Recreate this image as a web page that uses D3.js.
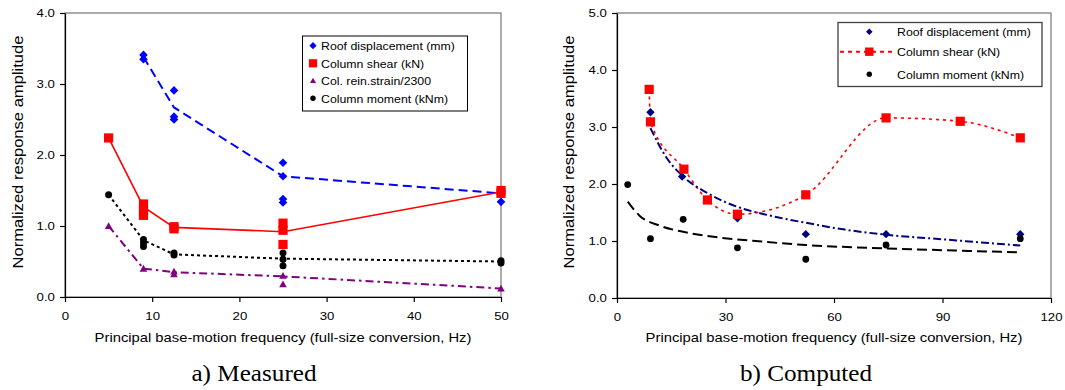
<!DOCTYPE html>
<html>
<head>
<meta charset="utf-8">
<script src="https://cdn.jsdelivr.net/npm/d3@7"></script>
<style>
  body { margin: 0; background: #fff; }
  svg { display: block; }
</style>
</head>
<body>
<svg id="chart" width="1065" height="390"></svg>
<script>
// ---- data ----
// a) Measured
const xTicksA = [0, 10, 20, 30, 40, 50];
const yTicksA = [0, 1, 2, 3, 4];
const roofMeasPts = [[9,3.41],[9,3.35],[12.5,2.91],[12.5,2.54],[12.5,2.50],[25,1.89],[25,1.70],[25,1.38],[25,1.33],[50,1.34]];
const roofMeasLine = [[9,3.38],[12.5,2.67],[25,1.70],[50,1.46]];
const shearMeasPts = [[5,2.24],[9,1.31],[9,1.22],[9,1.15],[12.5,0.99],[12.5,0.96],[25,1.04],[25,0.94],[25,0.74],[50,1.50],[50,1.46]];
const shearMeasLine = [[5,2.24],[9,1.27],[12.5,0.98],[25,0.92],[50,1.48]];
const strainMeasPts = [[5,1.00],[9,0.40],[12.5,0.36],[12.5,0.32],[25,0.30],[25,0.18],[50,0.12]];
const strainMeasLine = [[5,1.00],[9,0.40],[12.5,0.35],[25,0.29],[50,0.12]];
const momentMeasPts = [[5,1.44],[9,0.81],[9,0.76],[9,0.71],[12.5,0.62],[12.5,0.59],[25,0.62],[25,0.53],[25,0.44],[50,0.51],[50,0.48]];
const momentMeasLine = [[5,1.44],[9,0.80],[12.5,0.60],[25,0.54],[50,0.50]];
const legendA = ["Roof displacement (mm)", "Column shear (kN)", "Col. rein.strain/2300", "Column moment (kNm)"];

// b) Computed
const xTicksB = [0, 30, 60, 90, 120];
const yTicksB = [0, 1, 2, 3, 4, 5];
const roofCompPts = [[9.25,3.26],[18.0,2.13],[33.3,1.40],[52.2,1.12],[74.4,1.12],[111.5,1.12]];
const roofCompTrend = [[9.25,2.98],[13.7,2.46],[18.3,2.13],[25,1.84],[33.3,1.60],[42,1.45],[52.2,1.32],[63,1.20],[74.4,1.11],[90,1.03],[111.5,0.92]];
const shearCompPts = [[8.9,3.66],[9.25,3.09],[18.5,2.26],[25,1.72],[33.3,1.47],[52.2,1.81],[74.4,3.16],[94.9,3.10],[111.5,2.81]];
const momentCompPts = [[2.96,1.99],[9.25,1.04],[18.3,1.38],[33.3,0.88],[52.2,0.68],[74.4,0.93],[111.5,1.04]];
const momentCompTrend = [[2.96,1.69],[6.3,1.44],[11.8,1.27],[19.2,1.15],[28.4,1.06],[40,0.99],[52.2,0.93],[74.4,0.87],[95,0.83],[111.5,0.80]];
const legendB = ["Roof displacement (mm)", "Column shear (kN)", "Column moment (kNm)"];

const yLabel = "Normalized response amplitude";
const xLabel = "Principal base-motion frequency (full-size conversion, Hz)";

// ---- drawing ----
const SANS = "'Liberation Sans', Arial, sans-serif";
const SERIF = "'Liberation Serif', 'Times New Roman', serif";
const S = 1.12; // the glyphs in the picture are a bit wider than Arial
const svg = d3.select("#chart");

function label(g, x, y, s, size, opts) {
  opts = opts || {};
  g.append("text")
    .attr("transform", `translate(${x},${y})` + (opts.rot ? ` rotate(${opts.rot})` : "") + ` scale(${S},1)`)
    .attr("text-anchor", opts.anchor || "start")
    .attr("font-family", opts.family || SANS)
    .attr("font-size", size)
    .attr("fill", "#000")
    .text(s);
}

function marker(g, type, x, y, r, color) {
  if (type == "diamond") {
    g.append("path").attr("d", `M${x},${y - r}L${x + r},${y}L${x},${y + r}L${x - r},${y}Z`).attr("fill", color);
  } else if (type == "square") {
    g.append("rect").attr("x", x - r).attr("y", y - r).attr("width", 2 * r).attr("height", 2 * r).attr("fill", color);
  } else if (type == "triangle") {
    g.append("path").attr("d", `M${x},${y - r}L${x + r},${y + r * 0.8}L${x - r},${y + r * 0.8}Z`).attr("fill", color);
  } else {
    g.append("circle").attr("cx", x).attr("cy", y).attr("r", r).attr("fill", color);
  }
}

function panel(p) {
  const g = svg.append("g");
  const x = d3.scaleLinear().domain([0, p.xMax]).range([p.left, p.right]);
  const y = d3.scaleLinear().domain([0, p.yMax]).range([p.bottom, p.top]);

  g.append("rect")
    .attr("x", p.left).attr("y", p.top)
    .attr("width", p.right - p.left).attr("height", p.bottom - p.top)
    .attr("fill", "none").attr("stroke", "#808080").attr("stroke-width", 1.3);

  const ya = g.append("g").attr("transform", `translate(${p.left},0)`)
    .call(d3.axisLeft(y).tickValues(p.yTicks).tickFormat(d3.format(".1f")).tickSize(5).tickPadding(4).tickSizeOuter(0));
  const xa = g.append("g").attr("transform", `translate(0,${p.bottom})`)
    .call(d3.axisBottom(x).tickValues(p.xTicks).tickFormat(d3.format("d")).tickSize(5).tickPadding(10).tickSizeOuter(0));
  [ya, xa].forEach(a => {
    a.selectAll("path,line").attr("stroke", "#000").attr("stroke-width", 1.2);
    a.selectAll("text").attr("font-family", SANS).attr("font-size", 11.8).attr("fill", "#000")
      .attr("transform", `scale(${S},1)`);
    a.attr("font-size", null).attr("font-family", null);
  });

  label(g, p.yLabelX, 152, yLabel, 14.8, { rot: -90, anchor: "middle" });
  label(g, (p.left + p.right) / 2, 342, xLabel, 13.2, { anchor: "middle" });
  label(g, p.captionX, 381, p.caption, 22.5, { anchor: "middle", family: SERIF });

  const line = d3.line().x(d => x(d[0])).y(d => y(d[1]));
  p.lines.forEach(l => {
    g.append("path").attr("d", line.curve(l.curve || d3.curveLinear)(l.data))
      .attr("fill", "none").attr("stroke", l.color).attr("stroke-width", l.width)
      .attr("stroke-dasharray", l.dash || null);
  });
  p.points.forEach(s => {
    s.data.forEach(d => marker(g, s.type, x(d[0]), y(d[1]), s.r, s.color));
  });

  // legend
  const L = p.legend;
  g.append("rect").attr("x", L.x).attr("y", L.y).attr("width", L.w).attr("height", L.h)
    .attr("fill", "#fff").attr("stroke", L.stroke).attr("stroke-width", L.sw);
  L.items.forEach((it, i) => {
    const cy = L.rows[i];
    if (it.dash) {
      g.append("line").attr("x1", L.x + 2).attr("x2", L.textX - 2).attr("y1", cy).attr("y2", cy)
        .attr("stroke", it.color).attr("stroke-width", 2).attr("stroke-dasharray", it.dash);
    }
    marker(g, it.type, L.markX, cy, it.r, it.color);
    label(g, L.textX, cy + 4.2, it.text, 11, {});
  });
}

panel({
  left: 65, right: 501, top: 13, bottom: 297, xMax: 50, yMax: 4,
  xTicks: xTicksA, yTicks: yTicksA, yLabelX: 22.5, captionX: 254, caption: "a) Measured",
  lines: [
    { data: roofMeasLine, color: "#0000ff", width: 2, dash: "9,5" },
    { data: shearMeasLine, color: "#ff0000", width: 1.6 },
    { data: strainMeasLine, color: "#800080", width: 2, dash: "8,4,2.5,4" },
    { data: momentMeasLine, color: "#000", width: 2, dash: "3,3" }
  ],
  points: [
    { data: roofMeasPts, type: "diamond", r: 4.3, color: "#0000ff" },
    { data: shearMeasPts, type: "square", r: 4.6, color: "#ff0000" },
    { data: strainMeasPts, type: "triangle", r: 3.8, color: "#800080" },
    { data: momentMeasPts, type: "circle", r: 3.5, color: "#000" }
  ],
  legend: {
    x: 302.5, y: 36, w: 165, h: 75, stroke: "#000", sw: 1,
    markX: 313, textX: 321, rows: [45.7, 63.3, 80.7, 98.3],
    items: [
      { text: legendA[0], type: "diamond", r: 3.6, color: "#0000ff" },
      { text: legendA[1], type: "square", r: 4.1, color: "#ff0000" },
      { text: legendA[2], type: "triangle", r: 3.0, color: "#800080" },
      { text: legendA[3], type: "circle", r: 2.7, color: "#000" }
    ]
  }
});

panel({
  left: 617, right: 1051, top: 13, bottom: 298, xMax: 120, yMax: 5,
  xTicks: xTicksB, yTicks: yTicksB, yLabelX: 573.5, captionX: 806, caption: "b) Computed",
  lines: [
    { data: shearCompPts, color: "#ff0000", width: 1.6, dash: "3,4", curve: d3.curveMonotoneX },
    { data: roofCompTrend, color: "#000080", width: 2, dash: "8,3,2,3", curve: d3.curveMonotoneX },
    { data: momentCompTrend, color: "#000", width: 2, dash: "10,5", curve: d3.curveMonotoneX }
  ],
  points: [
    { data: roofCompPts, type: "diamond", r: 4.2, color: "#000080" },
    { data: shearCompPts, type: "square", r: 4.6, color: "#ff0000" },
    { data: momentCompPts, type: "circle", r: 3.4, color: "#000" }
  ],
  legend: {
    x: 838, y: 22.5, w: 204, h: 64, stroke: "#404040", sw: 1.3,
    markX: 869.3, textX: 897, rows: [31.7, 51.7, 74.3],
    items: [
      { text: legendB[0], type: "diamond", r: 3.3, color: "#000080" },
      { text: legendB[1], type: "square", r: 4.2, color: "#ff0000", dash: "4,4" },
      { text: legendB[2], type: "circle", r: 2.7, color: "#000" }
    ]
  }
});
</script>
</body>
</html>
